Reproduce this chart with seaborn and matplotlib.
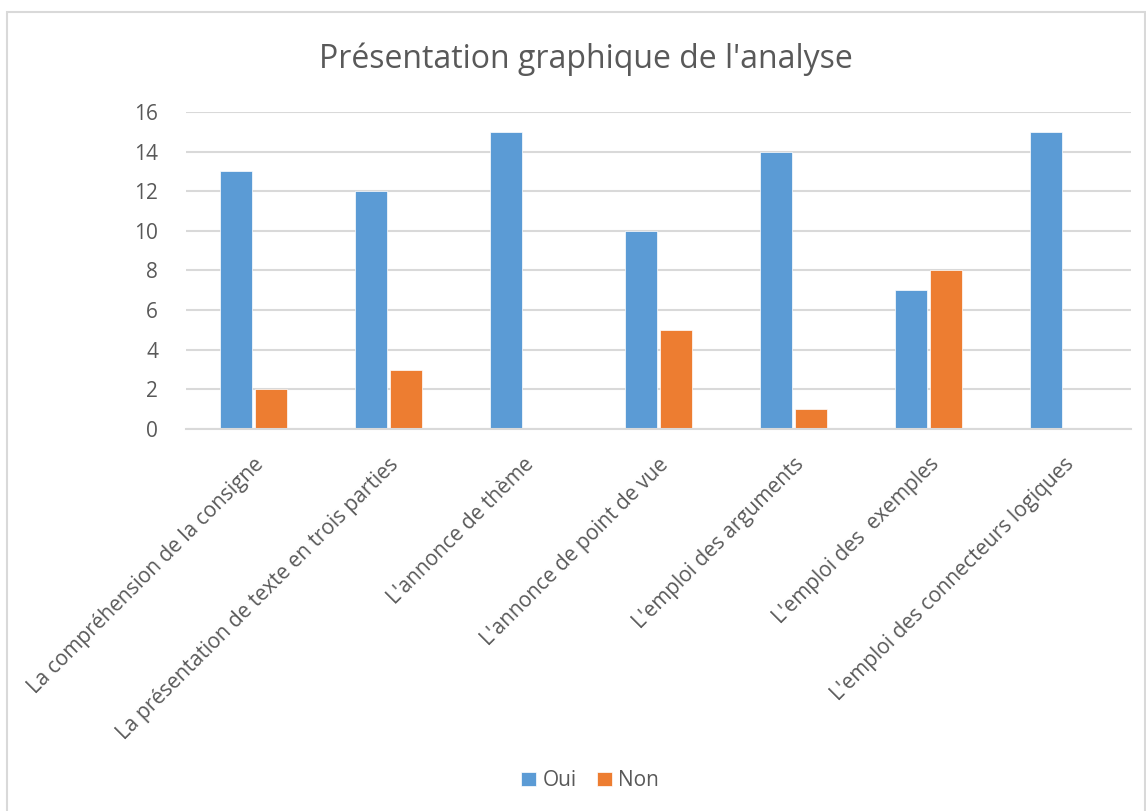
import matplotlib
matplotlib.use("Agg")
import matplotlib.pyplot as plt
from matplotlib.patches import Rectangle
import pandas as pd
import seaborn as sns

CRITERES = [
    "La compréhension de la consigne",
    "La présentation de texte en trois parties",
    "L'annonce de thème",
    "L'annonce de point de vue",
    "L'emploi des arguments",
    "L'emploi des  exemples",
    "L'emploi des connecteurs logiques",
]
OUI = [13, 12, 15, 10, 14, 7, 15]
NON = [2, 3, 0, 5, 1, 8, 0]
REPONSES = ["Oui", "Non"]
Y_TICKS = [0, 2, 4, 6, 8, 10, 12, 14, 16]

BLUE = "#5B9BD5"
ORANGE = "#ED7D31"
TEXT = "#595959"
GRID = "#D9D9D9"

df = pd.DataFrame({
    "critere": CRITERES * 2,
    "valeur": OUI + NON,
    "reponse": [REPONSES[0]] * len(OUI) + [REPONSES[1]] * len(NON),
})

sns.set_style("white")
plt.rcParams["font.family"] = ["Open Sans", "DejaVu Sans"]

fig = plt.figure(figsize=(11.46, 8.11), dpi=100)
ax = fig.add_axes([0.1623, 0.471, 0.8246, 0.391])

sns.barplot(data=df, x="critere", y="valeur", hue="reponse",
            palette=[BLUE, ORANGE], saturation=1, width=0.53, gap=0.11,
            edgecolor="white", linewidth=0.5, ax=ax)

ax.set_ylim(0, 16)
ax.set_yticks(Y_TICKS)
ax.yaxis.grid(True, color=GRID, linewidth=1.5)
ax.set_axisbelow(True)
for s in ["top", "right", "left"]:
    ax.spines[s].set_visible(False)
ax.spines["bottom"].set_color(GRID)
ax.spines["bottom"].set_linewidth(1.5)
ax.tick_params(axis="both", length=0, labelsize=15, colors=TEXT)
ax.tick_params(axis="y", pad=20)
ax.set_xlabel("")
ax.set_ylabel("")
plt.setp(ax.get_xticklabels(), rotation=45, ha="right",
         rotation_mode="anchor", color=TEXT)
ax.tick_params(axis="x", pad=18)

fig.suptitle("Présentation graphique de l'analyse", x=0.511, y=0.948,
             fontsize=23, color=TEXT)

leg = ax.legend(loc="center", bbox_to_anchor=(0.515, 0.037),
                bbox_transform=fig.transFigure, ncol=2, frameon=False,
                fontsize=15, handlelength=0.7, handleheight=0.7,
                handletextpad=0.3, columnspacing=1.0)
for t in leg.get_texts():
    t.set_color(TEXT)

# cadre du graphique
fig.patches.append(Rectangle((7 / 1146, -0.01), 1138 / 1146, 1 - 12 / 811 + 0.01,
                             transform=fig.transFigure, fill=False,
                             edgecolor=GRID, linewidth=1.5))

fig.savefig("out.png", dpi=100)
